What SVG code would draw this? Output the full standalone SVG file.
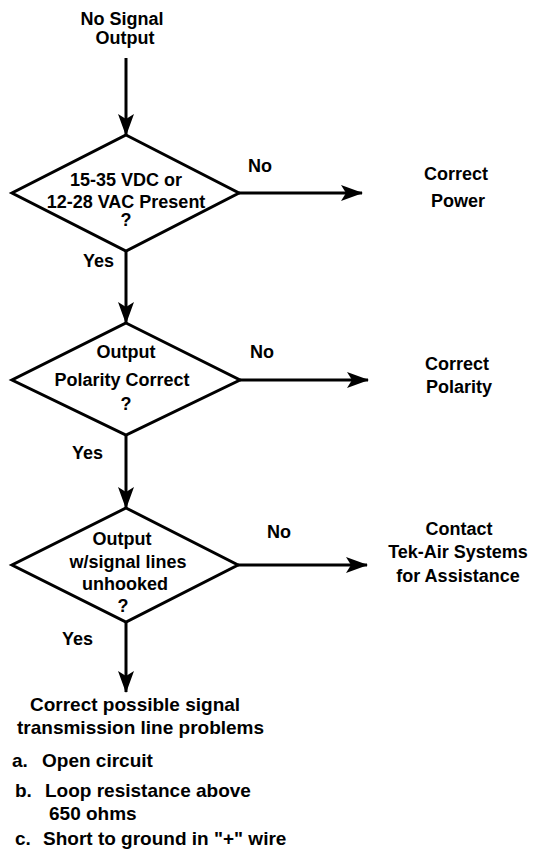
<svg xmlns="http://www.w3.org/2000/svg" width="536" height="851" viewBox="0 0 536 851">
<style>
text{font-family:"Liberation Sans",Arial,sans-serif;font-weight:bold;font-size:18px;fill:#000}
.c{text-anchor:middle}
.b{font-size:19px}
.shape{fill:#fff;stroke:#000;stroke-width:3;stroke-linejoin:miter}
.edge{fill:none;stroke:#000;stroke-width:3}
</style>
<defs>
<marker id="ah" markerWidth="22" markerHeight="16" refX="21" refY="8" orient="auto" markerUnits="userSpaceOnUse">
<path d="M0,0 L22,8 L0,16 L5,8 Z" fill="#000"/>
</marker>
</defs>
<rect width="536" height="851" fill="#fff"/>
<g id="start">
<text class="c" x="122" y="25">No Signal</text>
<text class="c" x="125" y="44">Output</text>
</g>
<g id="d1">
<polygon class="shape" points="126,135 239,193 126,251 12,193"/>
<text class="c" x="126" y="186">15-35 VDC or</text>
<text class="c" x="126" y="208" font-size="17.5">12-28 VAC Present</text>
<text class="c" x="126" y="226">?</text>
</g>
<g id="power">
<text class="c" x="456" y="180">Correct</text>
<text class="c" x="458" y="207">Power</text>
</g>
<g id="d2">
<polygon class="shape" points="126,323 240,380 126,435 12,380"/>
<text class="c" x="126" y="358">Output</text>
<text class="c" x="122" y="386">Polarity Correct</text>
<text class="c" x="126" y="410">?</text>
</g>
<g id="polarity">
<text class="c" x="457" y="370">Correct</text>
<text class="c" x="459" y="393">Polarity</text>
</g>
<g id="d3">
<polygon class="shape" points="126,508 238,565 126,622 12,565"/>
<text class="c" x="122" y="545">Output</text>
<text class="c" x="128" y="568">w/signal lines</text>
<text class="c" x="125" y="590">unhooked</text>
<text class="c" x="123" y="612">?</text>
</g>
<g id="contact">
<text class="c" x="459" y="535">Contact</text>
<text class="c" x="458" y="558">Tek-Air Systems</text>
<text class="c" x="458" y="582">for Assistance</text>
</g>
<g id="fix">
<text class="b" x="30" y="711">Correct possible signal</text>
<text class="b" x="17" y="734">transmission line problems</text>
<text class="b" y="767"><tspan x="12">a.</tspan><tspan x="42">Open circuit</tspan></text>
<text class="b" y="797"><tspan x="15">b.</tspan><tspan x="45">Loop resistance above</tspan></text>
<text class="b" x="49" y="820">650 ohms</text>
<text class="b" y="845"><tspan x="15">c.</tspan><tspan x="43">Short to ground in "+" wire</tspan></text>
</g>
<g id="connectors">
<line class="edge" x1="126" y1="58" x2="126" y2="135" marker-end="url(#ah)"/>
<line class="edge" x1="239" y1="193" x2="362" y2="193" marker-end="url(#ah)"/>
<line class="edge" x1="126" y1="251" x2="126" y2="323" marker-end="url(#ah)"/>
<line class="edge" x1="240" y1="380" x2="368" y2="380" marker-end="url(#ah)"/>
<line class="edge" x1="126" y1="435" x2="126" y2="508" marker-end="url(#ah)"/>
<line class="edge" x1="238" y1="565" x2="367" y2="565" marker-end="url(#ah)"/>
<line class="edge" x1="126" y1="622" x2="126" y2="692" marker-end="url(#ah)"/>
<text x="248" y="172">No</text>
<text x="250" y="358">No</text>
<text x="267" y="538">No</text>
<text x="83" y="267">Yes</text>
<text x="72" y="459">Yes</text>
<text x="62" y="645">Yes</text>
</g>
</svg>
